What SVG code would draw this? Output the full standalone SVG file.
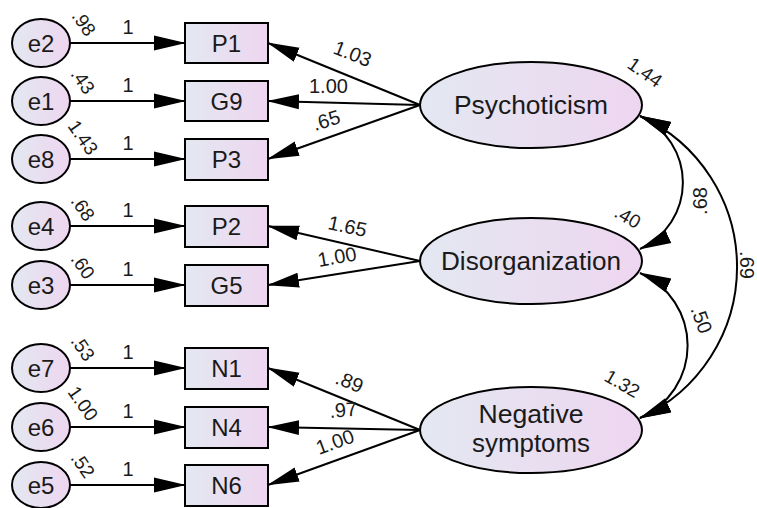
<svg xmlns="http://www.w3.org/2000/svg" width="757" height="508" viewBox="0 0 757 508">
<defs>
<linearGradient id="gFill" x1="0" y1="0" x2="1" y2="0">
<stop offset="0" stop-color="#e3e8f1"/>
<stop offset="1" stop-color="#eed6f0"/>
</linearGradient>
<marker id="ah" markerUnits="userSpaceOnUse" markerWidth="32" markerHeight="17" viewBox="0 0 32 17" refX="31" refY="8.5" orient="auto-start-reverse">
<path d="M0,1 L32,8.5 L0,16 Z" fill="#000"/>
</marker>
<style>
.shape{fill:url(#gFill);stroke:#000;stroke-width:2}
.lbl{font-family:"Liberation Sans",Arial,sans-serif;font-size:24px;fill:#1a1a1a;text-anchor:middle}
.lat{font-family:"Liberation Sans",Arial,sans-serif;font-size:25px;fill:#1a1a1a;text-anchor:middle}
.num{font-family:"Liberation Sans",Arial,sans-serif;font-size:20px;fill:#1a1a1a}
.var{font-family:"Liberation Sans",Arial,sans-serif;font-size:19px;fill:#1a1a1a}
.ln{fill:none;stroke:#000;stroke-width:2;marker-end:url(#ah)}
.cov{fill:none;stroke:#000;stroke-width:2;marker-start:url(#ah);marker-end:url(#ah)}
</style>
</defs>

<!-- error terms -->
<g id="e2"><ellipse class="shape" cx="41" cy="43" rx="29" ry="24"/><text class="lbl" x="41" y="52">e2</text></g>
<g id="e1"><ellipse class="shape" cx="41" cy="101" rx="29" ry="24"/><text class="lbl" x="41" y="110">e1</text></g>
<g id="e8"><ellipse class="shape" cx="41" cy="159" rx="29" ry="24"/><text class="lbl" x="41" y="168">e8</text></g>
<g id="e4"><ellipse class="shape" cx="41" cy="226" rx="29" ry="24"/><text class="lbl" x="41" y="235">e4</text></g>
<g id="e3"><ellipse class="shape" cx="41" cy="285" rx="29" ry="24"/><text class="lbl" x="41" y="294">e3</text></g>
<g id="e7"><ellipse class="shape" cx="41" cy="368" rx="29" ry="24"/><text class="lbl" x="41" y="377">e7</text></g>
<g id="e6"><ellipse class="shape" cx="41" cy="427" rx="29" ry="24"/><text class="lbl" x="41" y="436">e6</text></g>
<g id="e5"><ellipse class="shape" cx="41" cy="485" rx="29" ry="23"/><text class="lbl" x="41" y="494">e5</text></g>

<!-- observed variables -->
<g id="P1"><rect class="shape" x="185" y="23" width="83" height="40"/><text class="lbl" x="226.5" y="52">P1</text></g>
<g id="G9"><rect class="shape" x="185" y="81" width="83" height="40"/><text class="lbl" x="226.5" y="110">G9</text></g>
<g id="P3"><rect class="shape" x="185" y="139" width="83" height="41"/><text class="lbl" x="226.5" y="168">P3</text></g>
<g id="P2"><rect class="shape" x="185" y="206" width="83" height="41"/><text class="lbl" x="226.5" y="235">P2</text></g>
<g id="G5"><rect class="shape" x="185" y="265" width="83" height="41"/><text class="lbl" x="226.5" y="294">G5</text></g>
<g id="N1"><rect class="shape" x="185" y="348" width="83" height="41"/><text class="lbl" x="226.5" y="377">N1</text></g>
<g id="N4"><rect class="shape" x="185" y="407" width="83" height="41"/><text class="lbl" x="226.5" y="436">N4</text></g>
<g id="N6"><rect class="shape" x="185" y="465" width="83" height="41"/><text class="lbl" x="226.5" y="494">N6</text></g>

<!-- latent variables -->
<g id="Psychoticism"><ellipse class="shape" cx="531" cy="105" rx="111" ry="43"/><text class="lat" x="531" y="114" textLength="154" lengthAdjust="spacingAndGlyphs">Psychoticism</text></g>
<g id="Disorganization"><ellipse class="shape" cx="531" cy="261" rx="111" ry="43"/><text class="lat" x="531" y="270" textLength="180" lengthAdjust="spacingAndGlyphs">Disorganization</text></g>
<g id="NegativeSymptoms"><ellipse class="shape" cx="531" cy="430" rx="111" ry="43"/><text class="lat" x="531" y="423" textLength="105" lengthAdjust="spacingAndGlyphs">Negative</text><text class="lat" x="531" y="452" textLength="118" lengthAdjust="spacingAndGlyphs">symptoms</text></g>

<!-- connectors -->
<g id="connectors">
<path class="ln" d="M70,43 H185"/>
<path class="ln" d="M70,101 H185"/>
<path class="ln" d="M70,159 H185"/>
<path class="ln" d="M70,226 H185"/>
<path class="ln" d="M70,285 H185"/>
<path class="ln" d="M70,368 H185"/>
<path class="ln" d="M70,427 H185"/>
<path class="ln" d="M70,485 H185"/>

<path class="ln" d="M420,105 L268,43"/>
<path class="ln" d="M420,105 L268,101"/>
<path class="ln" d="M420,105 L268,159"/>
<path class="ln" d="M420,261 L268,226"/>
<path class="ln" d="M420,261 L268,285"/>
<path class="ln" d="M420,430 L268,368"/>
<path class="ln" d="M420,430 L268,427"/>
<path class="ln" d="M420,430 L268,485"/>

<path class="cov" d="M640,116 A73,73 0 0 1 640,249"/>
<path class="cov" d="M640,273 A79,79 0 0 1 640,418"/>
<path class="cov" d="M640,116 A166,166 0 0 1 640,418"/>

<!-- path coefficient labels -->
<text class="num" x="128" y="34" text-anchor="middle">1</text>
<text class="num" x="128" y="92" text-anchor="middle">1</text>
<text class="num" x="128" y="150" text-anchor="middle">1</text>
<text class="num" x="128" y="217" text-anchor="middle">1</text>
<text class="num" x="128" y="276" text-anchor="middle">1</text>
<text class="num" x="128" y="359" text-anchor="middle">1</text>
<text class="num" x="128" y="418" text-anchor="middle">1</text>
<text class="num" x="128" y="476" text-anchor="middle">1</text>

<text class="num" transform="translate(332,53) rotate(21.5)">1.03</text>
<text class="num" x="309" y="93">1.00</text>
<text class="num" transform="translate(315,131) rotate(-17)">.65</text>
<text class="num" transform="translate(327,229) rotate(12)">1.65</text>
<text class="num" transform="translate(319,267) rotate(-10)">1.00</text>
<text class="num" transform="translate(334,383) rotate(22)">.89</text>
<text class="num" transform="translate(330,418) rotate(-5)">.97</text>
<text class="num" transform="translate(319,455) rotate(-20)">1.00</text>

<!-- variance labels -->
<text class="var" transform="translate(71,16) rotate(55)">.98</text>
<text class="var" transform="translate(70,74) rotate(55)">.43</text>
<text class="var" transform="translate(67,126) rotate(55)">1.43</text>
<text class="var" transform="translate(70,201) rotate(55)">.68</text>
<text class="var" transform="translate(70,259) rotate(55)">.60</text>
<text class="var" transform="translate(70,341) rotate(55)">.53</text>
<text class="var" transform="translate(67,392) rotate(55)">1.00</text>
<text class="var" transform="translate(70,458) rotate(55)">.52</text>

<text class="var" transform="translate(626,67) rotate(35)">1.44</text>
<text class="var" transform="translate(613,216) rotate(30)">.40</text>
<text class="var" transform="translate(603,380) rotate(30)">1.32</text>

<!-- covariance labels -->
<text class="num" text-anchor="middle" transform="translate(707,201) rotate(-90)">.68</text>
<text class="num" text-anchor="middle" transform="translate(695,322) rotate(70)">.50</text>
<text class="num" text-anchor="middle" transform="translate(740,265) rotate(90)">.69</text>
</g>
</svg>
